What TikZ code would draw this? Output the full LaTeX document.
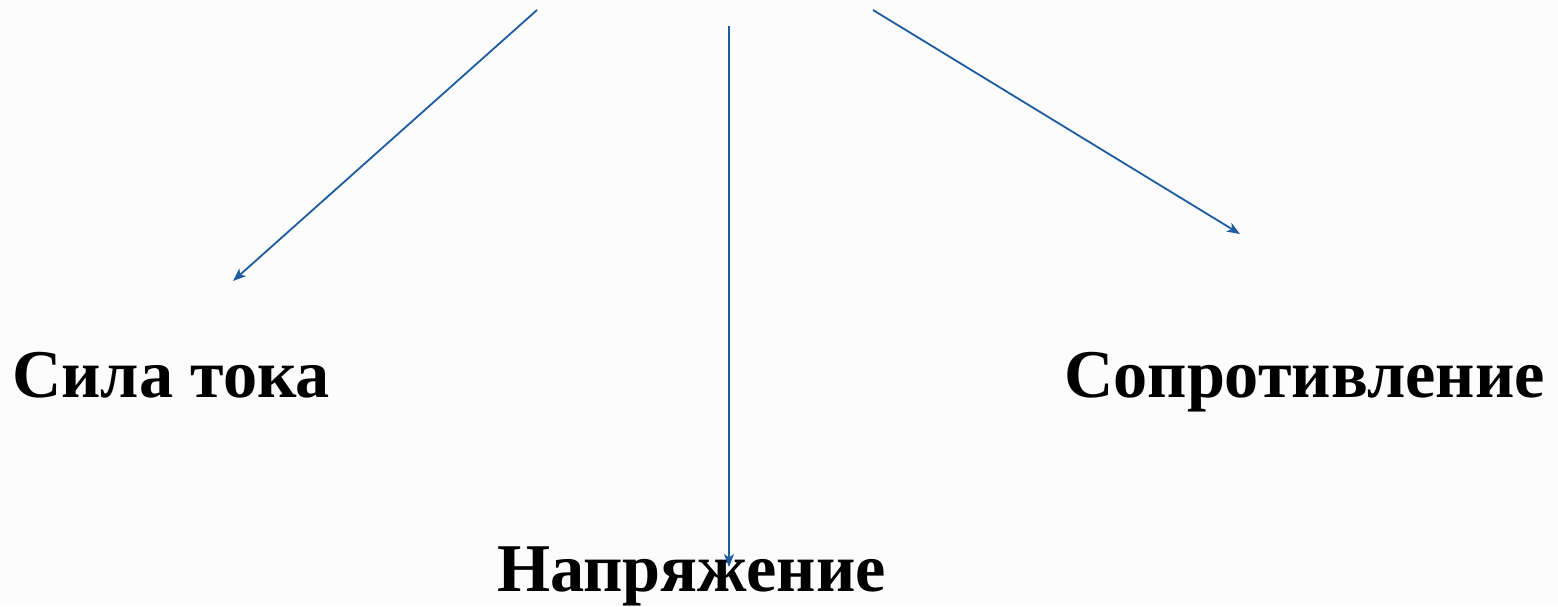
\documentclass[tikz,border=0pt]{standalone}
\usepackage{fontspec}
\setmainfont{Liberation Serif}
\usetikzlibrary{arrows.meta}
\definecolor{arrowblue}{RGB}{30,92,160}
\definecolor{bgcol}{RGB}{252,252,252}
\tikzset{
  lbl/.style={inner sep=0pt, anchor=base west, font=\fontsize{68.3}{82}\selectfont\bfseries},
  conn/.style={draw=arrowblue, line width=1.8pt, -{Stealth[length=13pt,width=10pt,inset=3.5pt]}}
}
\begin{document}
\begin{tikzpicture}[x=1pt,y=-1pt]
\fill[bgcol] (0,0) rectangle (1558,606);
\useasboundingbox (0,0) rectangle (1558,606);
\node[lbl] (sila) at (12,397) {Сила тока};
\node[lbl] (sopr) at (1064,397) {Сопротивление};
\node[lbl] (napr) at (497,591) {Напряжение};
\coordinate (s1) at (537,10);
\coordinate (e1) at (233,281);
\coordinate (s2) at (729,26);
\coordinate (e2) at (729,567);
\coordinate (s3) at (873,10);
\coordinate (e3) at (1240,234);
\draw[conn] (s1) -- (e1);
\draw[conn] (s2) -- (e2);
\draw[conn] (s3) -- (e3);
\end{tikzpicture}
\end{document}
